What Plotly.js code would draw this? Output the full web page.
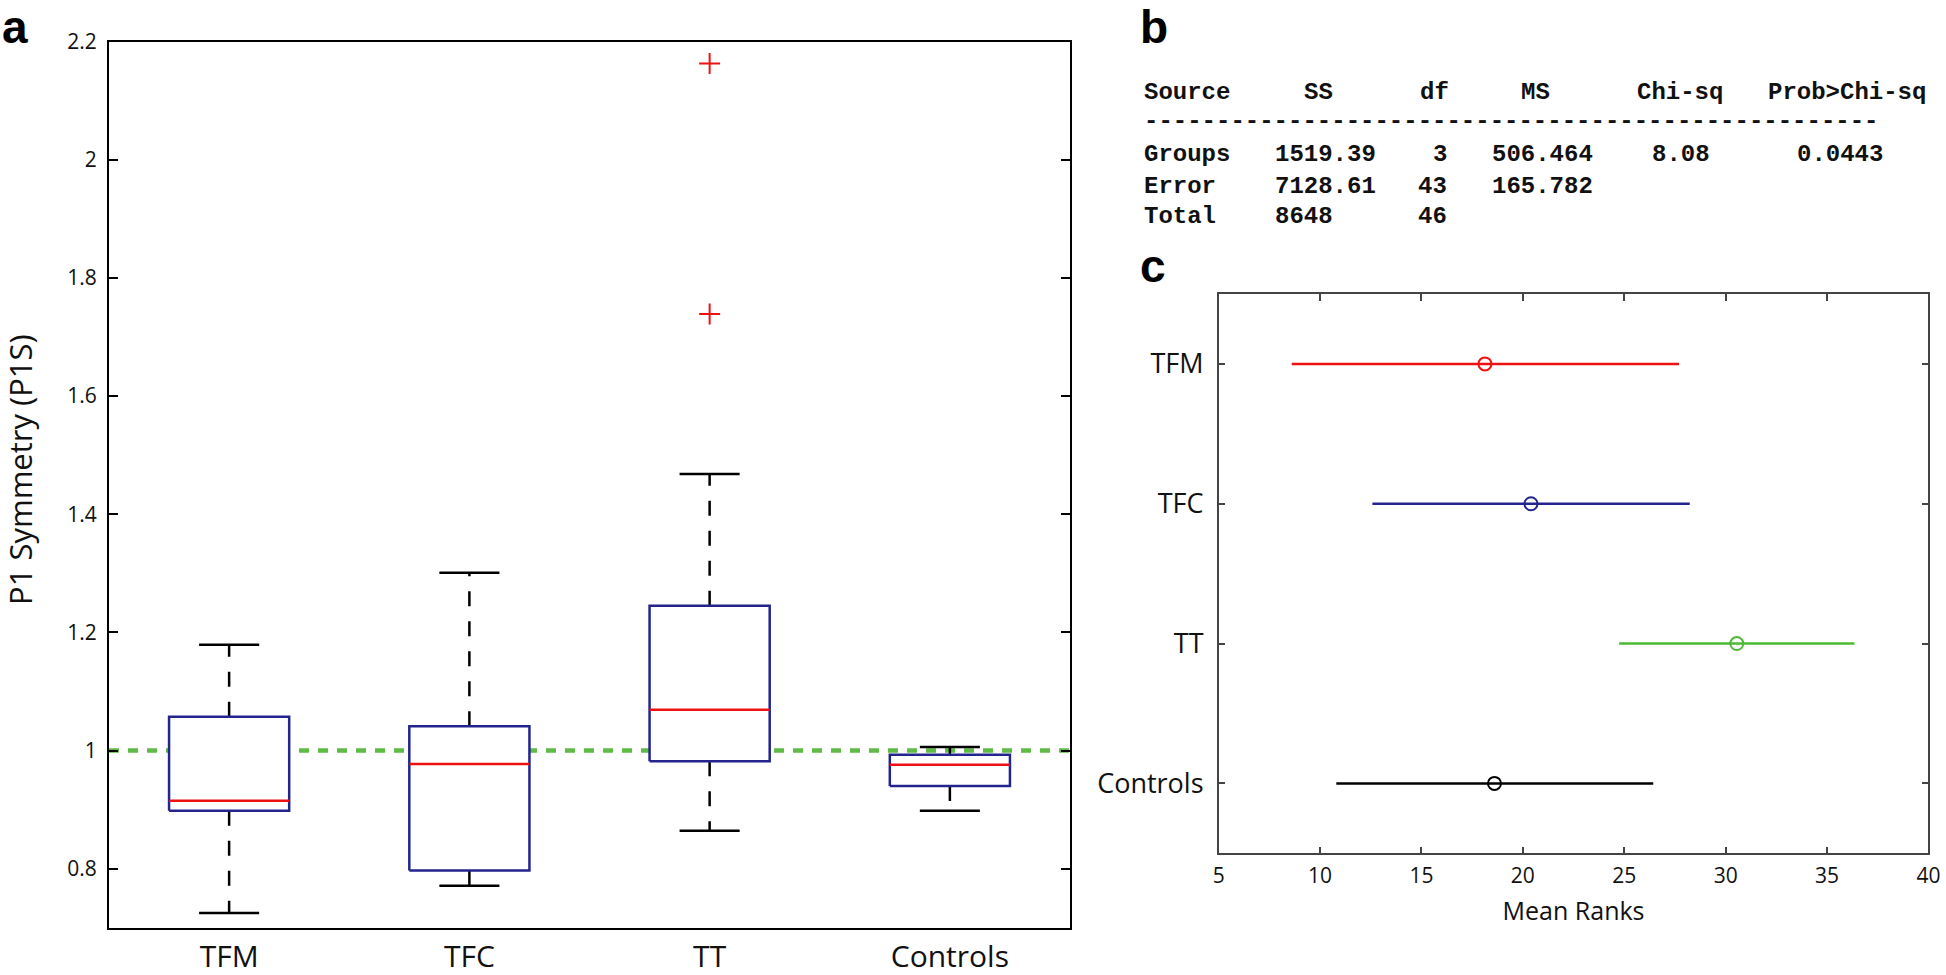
<!DOCTYPE html>
<html>
<head>
<meta charset="utf-8">
<script src="https://cdn.plot.ly/plotly-3.0.1.min.js"></script>
<style>
  html, body { margin: 0; padding: 0; background: #fff; }
  #chart { width: 1946px; height: 975px; }
</style>
</head>
<body>
<div id="chart"></div>
<script>
// panel a: box plot summary per group
const groups = ['TFM', 'TFC', 'TT', 'Controls']
const lowerWhisker = [0.725, 0.771, 0.864, 0.898]
const q1 = [0.898, 0.797, 0.982, 0.940]
const medians = [0.915, 0.977, 1.069, 0.976]
const q3 = [1.057, 1.041, 1.245, 0.993]
const upperWhisker = [1.179, 1.301, 1.468, 1.006]
const outlierGroup = ['TT', 'TT']
const outlierValues = [2.163, 1.739]
const referenceLevel = 1
const yTicks = [0.8, 1, 1.2, 1.4, 1.6, 1.8, 2, 2.2]
const yTickText = ['0.8', '1', '1.2', '1.4', '1.6', '1.8', '2', '2.2']

// panel b: Kruskal-Wallis table
const tableHeader = ['Source', 'SS', 'df', 'MS', 'Chi-sq', 'Prob>Chi-sq']
const tableSource = ['Groups', 'Error', 'Total']
const tableSS = ['1519.39', '7128.61', '8648']
const tableDf = ['3', '43', '46']
const tableMS = ['506.464', '165.782', '']
const tableChiSq = ['8.08', '', '']
const tableProb = ['0.0443', '', '']

// panel c: mean ranks with comparison intervals
const rankGroups = ['TFM', 'TFC', 'TT', 'Controls']
const rankMeans = [18.13, 20.40, 30.55, 18.60]
const rankLow = [8.60, 12.58, 24.75, 10.80]
const rankHigh = [27.70, 28.23, 36.35, 26.43]
const rankTicks = [5, 10, 15, 20, 25, 30, 35, 40]

const W = 1946, H = 975
const px = (x) => x / W
const py = (y) => 1 - y / H

const boxBlue = '#24248f'
const medRed = '#ee1111'
const refGreen = '#5dbb46'
const rankColors = ['#ee1111', '#24248f', '#4cba36', '#000000']
const sans = 'Open Sans, Liberation Sans, sans-serif'
const mono = 'Liberation Mono, DejaVu Sans Mono, monospace'

const halfBox = 0.25
const halfCap = 0.125

let data = []

// dotted reference line at 1 (drawn first so boxes cover it)
data.push({
  x: [0.5, 4.5],
  y: [referenceLevel, referenceLevel],
  xaxis: 'x', yaxis: 'y',
  mode: 'lines',
  line: { color: refGreen, width: 4.5, dash: '10px,9px' },
  hoverinfo: 'skip'
})

groups.forEach((g, i) => {
  const c = i + 1
  // whiskers, dashed, starting at the box
  data.push({
    x: [c, c], y: [q3[i], upperWhisker[i]], xaxis: 'x', yaxis: 'y',
    mode: 'lines', line: { color: '#000', width: 2.5, dash: '15px,15px' }
  })
  data.push({
    x: [c, c], y: [q1[i], lowerWhisker[i]], xaxis: 'x', yaxis: 'y',
    mode: 'lines', line: { color: '#000', width: 2.5, dash: '15px,15px' }
  })
  // caps
  data.push({
    x: [c - halfCap, c + halfCap, null, c - halfCap, c + halfCap],
    y: [upperWhisker[i], upperWhisker[i], null, lowerWhisker[i], lowerWhisker[i]],
    xaxis: 'x', yaxis: 'y',
    mode: 'lines', line: { color: '#000', width: 2.5 }
  })
  // box
  data.push({
    x: [c - halfBox, c + halfBox, c + halfBox, c - halfBox, c - halfBox],
    y: [q1[i], q1[i], q3[i], q3[i], q1[i]],
    xaxis: 'x', yaxis: 'y',
    mode: 'lines', fill: 'toself', fillcolor: '#fff',
    line: { color: boxBlue, width: 2.5 }
  })
  // median
  data.push({
    x: [c - halfBox, c + halfBox], y: [medians[i], medians[i]],
    xaxis: 'x', yaxis: 'y',
    mode: 'lines', line: { color: medRed, width: 2.5 }
  })
})

// outliers
data.push({
  x: outlierGroup.map(g => groups.indexOf(g) + 1),
  y: outlierValues,
  xaxis: 'x', yaxis: 'y',
  mode: 'markers',
  marker: { symbol: 'cross-thin', size: 15, color: medRed, line: { color: medRed, width: 2 } }
})

// panel c traces
rankGroups.forEach((g, i) => {
  const yy = rankGroups.length - i
  data.push({
    x: [rankLow[i], rankHigh[i]], y: [yy, yy],
    xaxis: 'x2', yaxis: 'y2',
    mode: 'lines', line: { color: rankColors[i], width: 2.5 }
  })
  data.push({
    x: [rankMeans[i]], y: [yy],
    xaxis: 'x2', yaxis: 'y2',
    mode: 'markers',
    marker: { symbol: 'circle-open', size: 13, color: rankColors[i], line: { color: rankColors[i], width: 2 } }
  })
})

// panel b table as annotations
const charW = 14.5
const tableX0 = 1143
const headerCols = [0, 11, 19, 26, 34, 43]
const rowYs = [154, 186.7, 217]
const tableFont = { family: mono, size: 24, color: '#111' }

let annotations = []
const cell = (text, col, y, anchor) => ({
  text: '<b>' + text + '</b>',
  x: px(tableX0 + col * charW), y: py(y),
  xref: 'paper', yref: 'paper',
  xanchor: anchor || 'left', yanchor: 'middle',
  showarrow: false, font: tableFont, borderpad: 0
})

tableHeader.forEach((h, j) => annotations.push(cell(h, headerCols[j], 92.5)))
annotations.push(cell('-'.repeat(51), 0, 121))
tableSource.forEach((s, r) => {
  const y = rowYs[r]
  annotations.push(cell(s, 0, y))
  annotations.push(cell(tableSS[r], 9, y))
  annotations.push(cell(tableDf[r], 21, y, 'right'))
  if (tableMS[r]) annotations.push(cell(tableMS[r], 24, y))
  if (tableChiSq[r]) annotations.push(cell(tableChiSq[r], 35, y))
  if (tableProb[r]) annotations.push(cell(tableProb[r], 45, y))
})

// panel letters
const letter = (t, x, y, anchor) => ({
  text: '<b>' + t + '</b>', x: px(x), y: py(y),
  xref: 'paper', yref: 'paper', xanchor: 'left', yanchor: anchor,
  showarrow: false, borderpad: 0,
  font: { family: 'Liberation Sans, Arial, sans-serif', size: 46, color: '#000' }
})
annotations.push(letter('a', 1, 0, 'top'))
annotations.push(letter('b', 1139, 0, 'top'))
annotations.push(letter('c', 1139, 266, 'middle'))

// y title of panel a
annotations.push({
  text: 'P1 Symmetry (P1S)', x: px(20), y: py(470),
  xref: 'paper', yref: 'paper', xanchor: 'center', yanchor: 'middle',
  textangle: -90, showarrow: false,
  font: { family: sans, size: 31, color: '#111' }
})

const layout = {
  width: W, height: H,
  margin: { l: 0, r: 0, t: 0, b: 0 },
  paper_bgcolor: '#fff', plot_bgcolor: '#fff',
  showlegend: false,
  xaxis: {
    domain: [px(109), px(1070)],
    range: [0.5, 4.5],
    tickvals: [1, 2, 3, 4], ticktext: groups,
    ticks: '', showgrid: false, zeroline: false,
    showline: true, mirror: true, linecolor: '#000', linewidth: 2,
    tickfont: { family: sans, size: 30, color: '#111' },
    ticklabelstandoff: 1
  },
  yaxis: {
    domain: [py(927.7), py(41.7)],
    range: [0.7, 2.2],
    tickvals: yTicks, ticktext: yTickText,
    ticks: 'inside', ticklen: 9, tickwidth: 2, tickcolor: '#000',
    showgrid: false, zeroline: false,
    showline: true, mirror: 'ticks', linecolor: '#000', linewidth: 2,
    tickfont: { family: sans, size: 21, color: '#111' },
    ticklabelstandoff: 6
  },
  xaxis2: {
    domain: [px(1218.7), px(1928.4)],
    anchor: 'y2',
    range: [5, 40],
    tickvals: rankTicks,
    ticks: 'inside', ticklen: 7, tickwidth: 1.5, tickcolor: '#444',
    showgrid: false, zeroline: false,
    showline: true, mirror: 'ticks', linecolor: '#444', linewidth: 1.5,
    tickfont: { family: sans, size: 21, color: '#111' },
    ticklabelstandoff: 3,
    title: { text: 'Mean Ranks', font: { family: sans, size: 25, color: '#111' }, standoff: 14 }
  },
  yaxis2: {
    domain: [py(853.3), py(294)],
    anchor: 'x2',
    range: [0.5, 4.5],
    tickvals: rankGroups.map((g, i) => rankGroups.length - i),
    ticktext: rankGroups,
    ticks: 'inside', ticklen: 7, tickwidth: 1.5, tickcolor: '#444',
    showgrid: false, zeroline: false,
    showline: true, mirror: 'ticks', linecolor: '#444', linewidth: 1.5,
    tickfont: { family: sans, size: 27, color: '#111' },
    ticklabelstandoff: 8
  },
  annotations: annotations
}

Plotly.newPlot('chart', data, layout, { displayModeBar: false, responsive: false })
</script>
</body>
</html>
